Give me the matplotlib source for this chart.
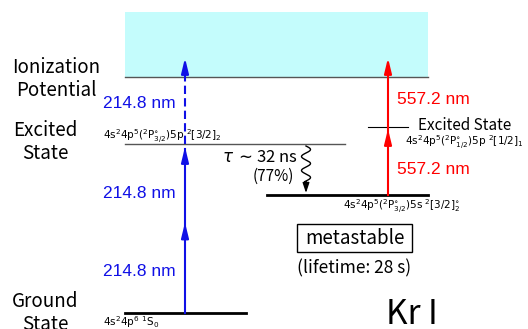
import numpy as np
import matplotlib.pyplot as plt
from matplotlib.patches import Rectangle

# level heights (diagram units, 0 = top of figure)
y_cont_top = 12
y_ip = 77
y_exc = 144
y_meta = 195
y_exc2 = 127
y_ground = 313

uv_label = "214.8 nm"
vis_label = "557.2 nm"
uv_label_y = [104, 193, 272]
vis_label_y = [100, 170]

jp = ['Noto Sans CJK JP', 'DejaVu Sans']
blue = '#1010e6'
red = '#ff0000'

fig = plt.figure(figsize=(5.28, 3.29), dpi=100)
ax = fig.add_axes([0, 0, 1, 1])
ax.set_xlim(0, 528)
ax.set_ylim(329, 0)
ax.axis('off')

# continuum
ax.add_patch(Rectangle((125, y_cont_top), 303, y_ip - y_cont_top, facecolor='#c4fcfc', edgecolor='none'))
ax.plot([125, 428], [y_ip, y_ip], color='#555555', lw=1)

# levels
ax.plot([125, 345], [y_exc, y_exc], color='#555555', lw=1)
ax.plot([125, 246], [y_ground, y_ground], color='black', lw=2)
ax.plot([267, 428], [y_meta, y_meta], color='black', lw=2)
ax.plot([368, 408], [y_exc2, y_exc2], color='black', lw=0.8)

ap = dict(arrowstyle='-|>,head_length=0.9,head_width=0.22', lw=1.5, shrinkA=0, shrinkB=0)


def head(x, y, c):
    ax.annotate('', xy=(x, y), xytext=(x, y + 10), arrowprops=dict(ap, color=c))


# blue: 2-photon excitation + ionization
xb = 185
mid = (y_ground + y_exc) / 2 - 6
ax.plot([xb, xb], [y_ground, y_exc + 5], color=blue, lw=1.5)
head(xb, mid, blue)
head(xb, y_exc + 3, blue)
ax.plot([xb, xb], [y_exc, 64], color=blue, lw=1.5, ls=(0, (4, 2)))
head(xb, 58, blue)

# red: from metastable
xr = 388
ax.plot([xr, xr], [y_meta, 64], color=red, lw=1.5)
head(xr, y_exc2 + 2, red)
head(xr, 58, red)

for yy in uv_label_y:
    ax.text(176, yy, uv_label, color=blue, fontsize=12.5, family='Liberation Sans',
            ha='right', va='center')
for yy in vis_label_y:
    ax.text(397, yy, vis_label, color=red, fontsize=12.5, family='Liberation Sans',
            ha='left', va='center')

# decay squiggle
t = np.linspace(0, 1, 200)
ys = 146 + t * 42
xs = 306 + 4.5 * np.sin(2 * np.pi * 3 * t) * (t < 0.85)
ax.plot(xs, ys, color='black', lw=1)
ax.annotate('', xy=(306, 193), xytext=(306, 185),
            arrowprops=dict(arrowstyle='-|>,head_length=0.6,head_width=0.2', lw=1, color='black',
                            shrinkA=0, shrinkB=0))
ax.text(298, 158, r'$\tau$ $\sim$32 ns', fontsize=12, family=jp, ha='right', va='center')
ax.text(294, 176, '(77%)', fontsize=11, family=jp, ha='right', va='center')

# state names
ax.text(56, 79, 'Ionization\nPotential', fontsize=13.5, family=jp, ha='center', va='center',
        linespacing=1.15)
ax.text(45, 142, 'Excited\nState', fontsize=13.5, family=jp, ha='center', va='center',
        linespacing=1.15)
ax.text(45, 313, 'Ground\nState', fontsize=13.5, family=jp, ha='center', va='center',
        linespacing=1.15)
ax.text(418, 125, 'Excited State', fontsize=11, family=jp, ha='left', va='center')

# configurations
ax.text(103, 137, r'4s$^2$4p$^5$($^2$P$^{\circ}_{3/2}$)5p $^2$[3/2]$_2$', fontsize=7.5,
        ha='left', va='center')
ax.text(405, 143, r'4s$^2$4p$^5$($^2$P$^{\circ}_{1/2}$)5p $^2$[1/2]$_1$', fontsize=7.5,
        ha='left', va='center')
ax.text(343, 207, r'4s$^2$4p$^5$($^2$P$^{\circ}_{3/2}$)5s $^2$[3/2]$^{\circ}_2$', fontsize=7.5,
        ha='left', va='center')
ax.text(103, 322, r'4s$^2$4p$^6$ $^1$S$_0$', fontsize=7.5, ha='left', va='center')

ax.add_patch(Rectangle((297, 224), 115, 28, facecolor='none', edgecolor='black', lw=1))
ax.text(354.5, 238, 'metastable', fontsize=13.5, family=jp, ha='center', va='center')
ax.text(297, 268, '(lifetime: 28 s)', fontsize=12.5, family=jp, ha='left', va='center')

ax.text(412, 315, 'Kr I', fontsize=24, family=jp, ha='center', va='center')

fig.savefig('out.png', dpi=100)
